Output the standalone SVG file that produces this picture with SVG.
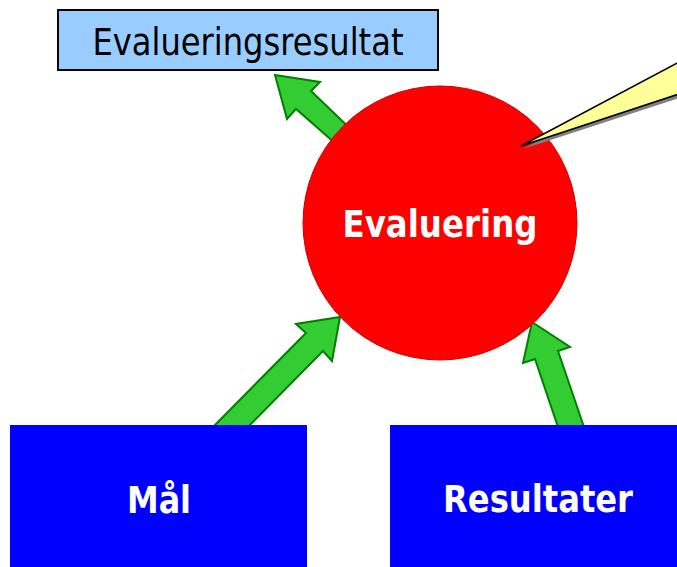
<svg xmlns="http://www.w3.org/2000/svg" width="677" height="567" viewBox="0 0 677 567">
<style>
.arrow{fill:#33CC33;stroke:#008000;stroke-width:2;stroke-linejoin:miter}
.box{fill:#0000FF}
.wt{fill:#FFFFFF;font-family:"DejaVu Sans",Verdana,sans-serif;font-weight:bold;font-size:37px;text-anchor:middle}
</style>
<rect width="677" height="567" fill="#FFFFFF"/>
<g id="connectors">
<polygon class="arrow" points="275,75 320,82 311,91 360,138 345,152 296,109 287,119"/>
<polygon class="arrow" points="340,317 332,361 323,351 245,430 210,430 306,333 296,324"/>
<polygon class="arrow" points="532,322 570,347 558,351 585,430 559,430 535,359 523,363"/>
</g>
<g id="evaluering">
<circle cx="440" cy="223" r="137" fill="#FF0000" stroke="#CC0000" stroke-width="1"/>
<text class="wt" x="440" y="237" textLength="195" lengthAdjust="spacingAndGlyphs">Evaluering</text>
</g>
<g id="callout">
<polygon points="523,149 679,66 679,98" fill="#808080"/>
<polygon points="521,146 679,62 679,94" fill="#FFFF99" stroke="#000000" stroke-width="1.5" stroke-linejoin="miter"/>
</g>
<g id="evalueringsresultat">
<rect x="58" y="10" width="380" height="60" fill="#99CCFF" stroke="#000000" stroke-width="2"/>
<text x="248" y="55" font-family="DejaVu Sans,Verdana,sans-serif" font-size="37" text-anchor="middle" fill="#000000" textLength="311" lengthAdjust="spacingAndGlyphs">Evalueringsresultat</text>
</g>
<g id="maal">
<rect class="box" x="10" y="425" width="297" height="142"/>
<text class="wt" x="159" y="513" textLength="64" lengthAdjust="spacingAndGlyphs">Mål</text>
</g>
<g id="resultater">
<rect class="box" x="390" y="425" width="287" height="142"/>
<text class="wt" x="538" y="512" textLength="190" lengthAdjust="spacingAndGlyphs">Resultater</text>
</g>
</svg>
